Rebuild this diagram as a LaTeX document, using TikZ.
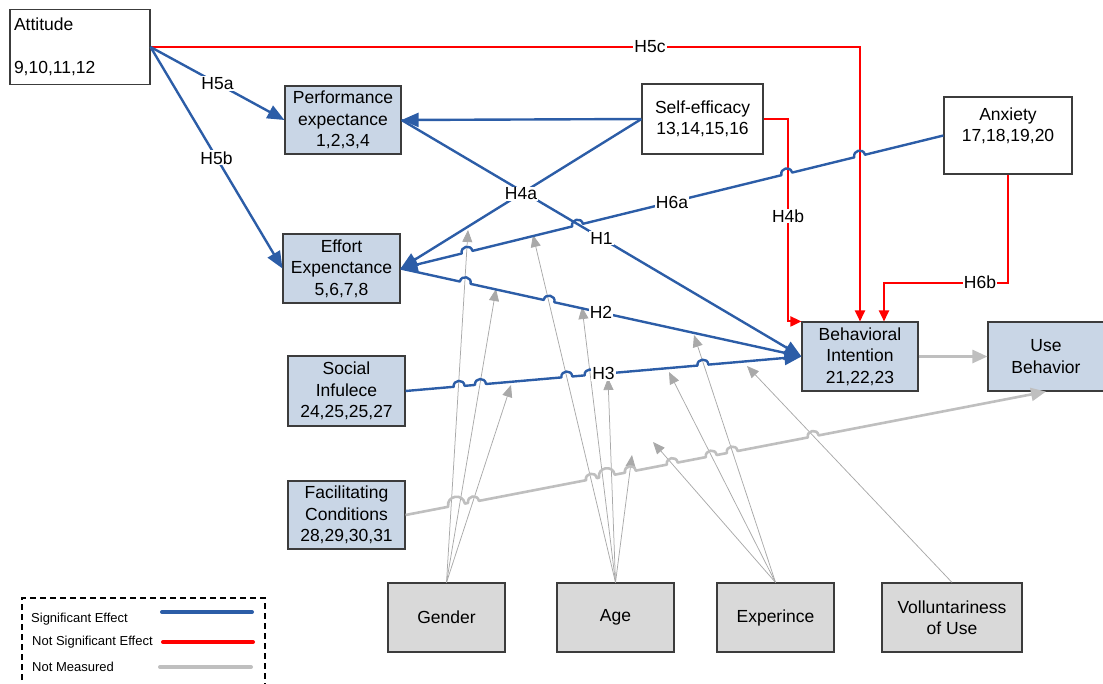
\documentclass[tikz,border=0pt]{standalone}
\usepackage{fontspec}
\setmainfont{Liberation Sans}
\usetikzlibrary{arrows.meta,calc}

\definecolor{sigblue}{HTML}{2C5DA7}
\definecolor{nsred}{HTML}{FF0000}
\definecolor{nmgray}{HTML}{BFBFBF}
\definecolor{modgray}{HTML}{A9A9A9}
\definecolor{constfill}{HTML}{C9D6E6}
\definecolor{modfill}{HTML}{D9D9D9}
\definecolor{boxline}{HTML}{3C3C3C}

\tikzset{
  box/.style={draw=boxline, line width=1.1pt, inner sep=2pt, align=center,
    font=\fontsize{17.5}{21.5}\selectfont},
  construct/.style={box, fill=constfill},
  plainbox/.style={box, fill=white},
  moderator/.style={box, fill=modfill, minimum width=117pt, minimum height=69pt},
  sig/.style={draw=sigblue, line width=2.4pt, line join=round},
  sigtip/.style={-{Triangle[length=17pt,width=14pt]}},
  ns/.style={draw=nsred, line width=2pt, -{Triangle[length=11pt,width=10pt]}},
  nm/.style={draw=nmgray, line width=2.6pt, line join=round,
    -{Triangle[length=15pt,width=13pt]}},
  mod/.style={draw=modgray, line width=0.75pt, -{Triangle[length=12pt,width=10pt]}},
  hyp/.style={fill=white, inner sep=1pt, font=\fontsize{17.5}{20}\selectfont},
  legtext/.style={anchor=west, inner sep=0pt, font=\fontsize{13}{15}\selectfont},
  legline/.style={line width=4pt, line cap=round},
}

% straight connector with small line hops at the given fractions (fraction/radius)
\newcommand\hopline[4]{%
  \draw[#1] (#2)
    \foreach \hp/\hr in {#4}{
      -- ($(#2)!\hp!(#3)!-\hr!(#3)$)
      to[bend left=90,looseness=1.7] ($(#2)!\hp!(#3)!\hr!(#3)$)
    } -- (#3);}

\begin{document}
\begin{tikzpicture}[x=1pt,y=-1pt]
\useasboundingbox (0,0) rectangle (1103,683);

% constructs
\node[plainbox, minimum width=140pt, minimum height=75pt, text width=132pt, align=left]
  (att) at (80,47) {Attitude\\\mbox{}\\9,10,11,12};
\node[construct, minimum width=116pt, minimum height=68pt] (pe) at (343,120)
  {Performance\\expectance\\1,2,3,4};
\node[plainbox, minimum width=121pt, minimum height=70pt] (se) at (702.5,119)
  {Self-efficacy\\13,14,15,16};
\node[plainbox, minimum width=128pt, minimum height=77pt] (anx) at (1008,135.5)
  {Anxiety\\17,18,19,20\\\mbox{}};
\node[construct, minimum width=117pt, minimum height=69pt] (ee) at (341.5,268.5)
  {Effort\\Expenctance\\5,6,7,8};
\node[construct, minimum width=117pt, minimum height=70pt] (si) at (346.5,391)
  {Social\\Infulece\\24,25,25,27};
\node[construct, minimum width=117pt, minimum height=68pt] (fc) at (346.5,515)
  {Facilitating\\Conditions\\28,29,30,31};
\node[construct, minimum width=116pt, minimum height=69pt] (bi) at (860,356.5)
  {Behavioral\\Intention\\21,22,23};
\node[construct, minimum width=116pt, minimum height=69pt] (ub) at (1046,356.5)
  {Use\\Behavior};

% moderators
\node[moderator] (gen) at (446.5,617.5) {Gender};
\node[moderator] (age) at (615.5,617.5) {Age};
\node[moderator] (exp) at (775.5,617.5) {Experince};
\node[moderator, minimum width=140pt] (vol) at (952,617.5) {Volluntariness\\of Use};

% moderating arrows (not measured)
\coordinate (m1) at (468,230);
\coordinate (m2) at (496,289);
\coordinate (m3) at (511,385);
\coordinate (m4) at (533,235);
\coordinate (m5) at (582,307);
\coordinate (m6) at (608,378);
\coordinate (m7) at (632,455);
\coordinate (m8) at (653,442);
\coordinate (m9) at (669,372);
\coordinate (m10) at (694,335);
\coordinate (m11) at (747,366);
\draw[mod] (gen.north) -- (m1);
\draw[mod] (gen.north) -- (m2);
\draw[mod] (gen.north) -- (m3);
\draw[mod] (age.north) -- (m4);
\draw[mod] (age.north) -- (m5);
\draw[mod] (age.north) -- (m6);
\draw[mod] (age.north) -- (m7);
\draw[mod] (exp.north) -- (m8);
\draw[mod] (exp.north) -- (m9);
\draw[mod] (exp.north) -- (m10);
\draw[mod] (vol.north) -- (m11);

% not significant effects
\draw[ns] (att.east) -| (bi.north);
\draw[ns] (se.east) -- ++(24.5,0) |- (bi.north west);
\draw[ns] (anx.south) -- ++(0,108) -| ([xshift=24pt]bi.north);

% significant effects
\draw[sig, sigtip] (att.east) -- (pe.west);
\draw[sig, sigtip] (att.east) -- (ee.west);
\draw[sig, sigtip] (se.west) -- (pe.east);
\draw[sig, sigtip] (se.west) -- (ee.east);
\draw[sig, sigtip] (pe.east) -- (bi.west);
\hopline{sig, {Triangle[length=17pt,width=14pt]}-}{ee.east}{anx.west}%
  {0.1226/5.5pt,0.3261/5.5pt,0.7114/5.5pt,0.8456/5.5pt}
\hopline{sig, sigtip}{ee.east}{bi.west}{0.1614/5.5pt,0.3704/5.5pt}
\hopline{sig, sigtip}{si.east}{bi.west}%
  {0.1353/5.5pt,0.1892/5.5pt,0.4073/5.5pt,0.4662/5.5pt,0.7511/5.5pt}

% not measured paths
\draw[nm] (bi.east) -- (ub.west);
\hopline{nm}{fc.east}{ub.south}%
  {0.0796/8.5pt,0.1061/5.5pt,0.2902/5.5pt,0.3144/8pt,0.3510/5.5pt,0.4165/5.5pt,0.4774/5.5pt,0.5101/5.5pt,0.6365/5.5pt}

% hypothesis labels
\node[hyp] (h5a) at ($(att.east)!0.5!(pe.west)$) {H5a};
\node[hyp] (h5b) at ($(att.east)!0.5!(ee.west)$) {H5b};
\node[hyp] (h5c) at ($(att.east)!0.704!(att.east -| bi.north)$) {H5c};
\node[hyp] (h4a) at ($(se.west)!0.5!(ee.east)$) {H4a};
\node[hyp] (h1) at ($(pe.east)!0.5!(bi.west)$) {H1};
\node[hyp] (h6a) at ($(ee.east)!0.5!(anx.west)$) {H6a};
\node[hyp] (h2) at ($(ee.east)!0.5!(bi.west)$) {H2};
\node[hyp] (h3) at ($(si.east)!0.5!(bi.west)$) {H3};
\node[hyp] (h4b) at ($(se.east)+(24.5,97)$) {H4b};
\node[hyp] (h6b) at ($(anx.south)+(-28,108)$) {H6b};

% legend
\draw[black, line width=1.1pt, dash pattern=on 6pt off 4pt]
  (22,690) -- (22,598) -- (265,598) -- (265,690);
\node[legtext] (l1) at (31,619.5) {Significant Effect};
\node[legtext] (l2) at (32,642) {Not Significant Effect};
\node[legtext] (l3) at (32,667) {Not Measured};
\draw[legline, sigblue] (162,612) -- (252,612);
\draw[legline, nsred] (163,642) -- (253,642);
\draw[legline, nmgray] (160,667) -- (251,667);
\end{tikzpicture}
\end{document}
